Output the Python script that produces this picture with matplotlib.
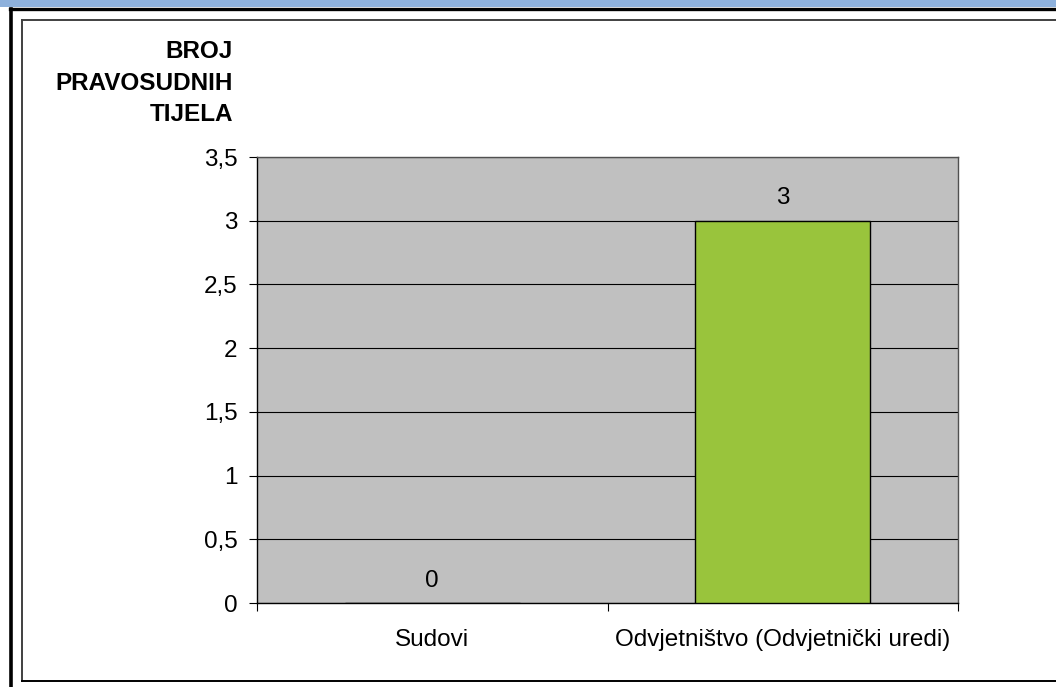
import matplotlib
matplotlib.use("Agg")
import matplotlib.pyplot as plt
from matplotlib.lines import Line2D
from matplotlib.patches import Rectangle
from matplotlib.ticker import FixedLocator, FuncFormatter, MultipleLocator

categories = ["Sudovi", "Odvjetništvo (Odvjetnički uredi)"]
values = [0, 3]
y_label = "BROJ\nPRAVOSUDNIH\nTIJELA"

W, H = 1056, 687
plt.rcParams["font.family"] = ["Liberation Sans", "DejaVu Sans"]

fig = plt.figure(figsize=(W / 100, H / 100), dpi=100)


def fx(px):
    return px / W


def fy(py):
    return 1 - py / H


# page decoration: blue header strip, outer frame, inner chart frame
fig.patches.append(Rectangle((0, fy(7)), 1, 7 / H, transform=fig.transFigure,
                             facecolor="#8eb1dc", edgecolor="none", zorder=0))
fig.lines.append(Line2D([fx(10), 1], [fy(8.5), fy(8.5)], transform=fig.transFigure,
                        color="black", lw=2.4))
fig.lines.append(Line2D([fx(10.5), fx(10.5)], [0, fy(8.5)], transform=fig.transFigure,
                        color="black", lw=2.6))
fig.lines.append(Line2D([fx(21.5), 1], [fy(20), fy(20)], transform=fig.transFigure,
                        color="#404040", lw=1.4))
fig.lines.append(Line2D([fx(21.5), fx(21.5)], [fy(20), fy(681)], transform=fig.transFigure,
                        color="#404040", lw=1.4))
fig.lines.append(Line2D([fx(21.5), 1], [fy(681), fy(681)], transform=fig.transFigure,
                        color="black", lw=1.4))

ax = fig.add_axes([fx(257), fy(603), fx(958) - fx(257), (603 - 157) / H])
ax.set_facecolor("#c0c0c0")

x = range(len(categories))
bars = ax.bar(x, values, width=0.5, color="#99c43c", edgecolor="black", linewidth=1.0,
              zorder=3)

for rect, v in zip(bars, values):
    ax.annotate(f"{v}", (rect.get_x() + rect.get_width() / 2, v),
                xytext=(0, 16), textcoords="offset points",
                ha="center", va="center", fontsize=17.5)

ax.set_xlim(-0.5, len(categories) - 0.5)
ax.set_ylim(0, 3.5)
ax.yaxis.set_major_locator(MultipleLocator(0.5))
ax.yaxis.set_major_formatter(FuncFormatter(lambda v, _: f"{v:g}".replace(".", ",")))
ax.set_axisbelow(True)
ax.yaxis.grid(True, color="black", linewidth=0.8)

ax.set_xticks(list(x))
ax.set_xticklabels(categories)
ax.xaxis.set_minor_locator(FixedLocator([i - 0.5 for i in range(len(categories) + 1)]))
ax.tick_params(axis="x", which="major", length=0, pad=18.5, labelsize=17.5)
ax.tick_params(axis="x", which="minor", length=6, width=0.8, color="black")
ax.tick_params(axis="y", length=6, width=0.8, pad=8, labelsize=17.5)

for side in ("left", "bottom"):
    ax.spines[side].set_color("black")
    ax.spines[side].set_linewidth(1.0)
for side in ("top", "right"):
    ax.spines[side].set_color("#505050")
    ax.spines[side].set_linewidth(1.0)

fig.text(fx(233), fy(83), y_label, ha="right", va="center", fontsize=17.5,
         fontweight="bold", linespacing=1.45, multialignment="right")

fig.savefig("out.png", dpi=100)
